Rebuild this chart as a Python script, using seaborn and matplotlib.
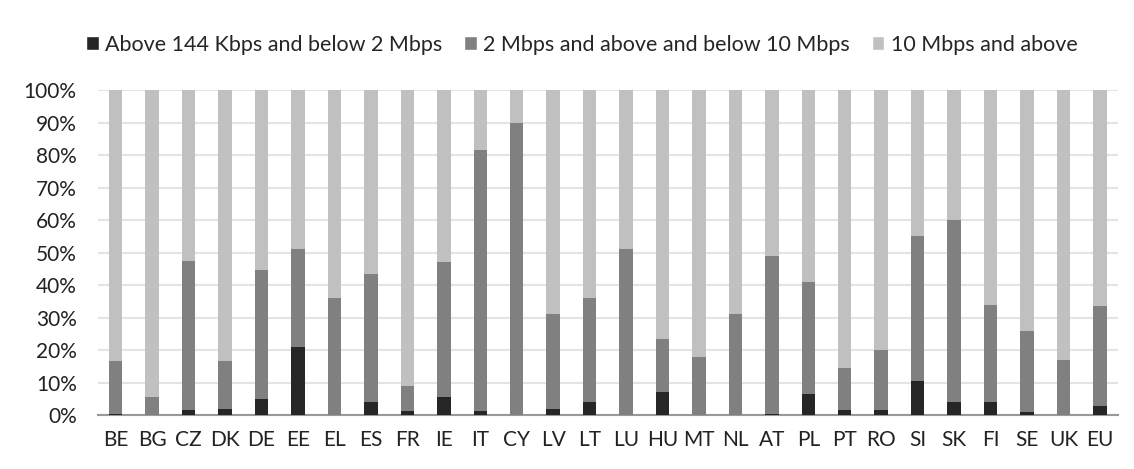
import numpy as np
import pandas as pd
import seaborn as sns
import matplotlib.pyplot as plt
from matplotlib.patches import Patch

# === Data (percent of lines per speed band) ===
countries = ["BE", "BG", "CZ", "DK", "DE", "EE", "EL", "ES", "FR", "IE", "IT", "CY", "LV", "LT",
             "LU", "HU", "MT", "NL", "AT", "PL", "PT", "RO", "SI", "SK", "FI", "SE", "UK", "EU"]
below_2 = [0.3, 0.0, 1.5, 2.0, 5.0, 21.0, 0.0, 4.0, 1.3, 5.5, 1.2, 0.0, 2.0, 4.0,
           0.0, 7.0, 0.0, 0.0, 0.4, 6.5, 1.5, 1.5, 10.5, 4.0, 4.0, 0.8, 0.0, 2.7]
from_2_to_10 = [16.2, 5.5, 46.0, 14.5, 39.5, 30.0, 36.0, 39.5, 7.7, 41.5, 80.3, 90.0, 29.0, 32.0,
                51.0, 16.5, 18.0, 31.0, 48.6, 34.5, 13.0, 18.5, 44.5, 56.0, 30.0, 25.2, 17.0, 30.8]
above_10 = [100 - a - b for a, b in zip(below_2, from_2_to_10)]

labels = ["Above 144 Kbps and below 2 Mbps", "2 Mbps and above and below 10 Mbps", "10 Mbps and above"]
colors = ["#262626", "#808080", "#c0c0c0"]

df = pd.DataFrame({"country": countries, "low": below_2, "mid": from_2_to_10, "high": above_10})
df["cum_low"] = df["low"]
df["cum_mid"] = df["low"] + df["mid"]
df["cum_high"] = df["cum_mid"] + df["high"]

sns.set_style("white")
plt.rcParams["font.family"] = ["Lato", "DejaVu Sans"]

fig, ax = plt.subplots(figsize=(11.34, 4.69), dpi=100)
fig.subplots_adjust(left=0.086, right=0.986, top=0.808, bottom=0.115)

# stacked bars by overlaying cumulative heights
for col, color in zip(["cum_high", "cum_mid", "cum_low"], colors[::-1]):
    sns.barplot(data=df, x="country", y=col, color=color, width=0.37,
                saturation=1, linewidth=0, ax=ax, zorder=3)

ax.set_ylim(0, 100)
ax.set_xlim(-0.5, len(countries) - 0.5)
ax.set_yticks(np.arange(0, 101, 10))
ax.set_yticklabels([f"{v}%" for v in range(0, 101, 10)], fontsize=15, color="#222222")
ax.set_xlabel("")
ax.set_ylabel("")
ax.tick_params(axis="x", labelsize=15, labelcolor="#222222", length=0, pad=11)
ax.tick_params(axis="y", length=0, pad=15)
ax.set_xticks(np.arange(-0.5, len(countries), 1.0), minor=True)
ax.tick_params(axis="x", which="minor", length=6, color="#999999", width=1.2)

ax.grid(axis="y", color="#e4e4e4", linewidth=1.5, zorder=0)
ax.set_axisbelow(True)
for side in ["left", "right", "top"]:
    ax.spines[side].set_visible(False)
ax.spines["bottom"].set_color("#999999")
ax.spines["bottom"].set_linewidth(1.5)

handles = [Patch(facecolor=c, label=l) for c, l in zip(colors, labels)]
fig.legend(handles=handles, loc="center", bbox_to_anchor=(0.513, 0.905), ncol=3,
           frameon=False, fontsize=15.5, handlelength=0.6, handleheight=0.6,
           handletextpad=0.3, columnspacing=1.0)

plt.savefig("out.png", dpi=100)
